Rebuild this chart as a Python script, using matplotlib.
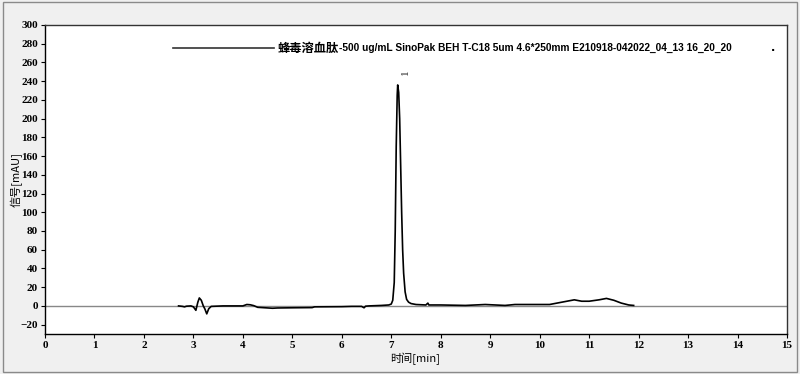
import matplotlib
matplotlib.use("Agg")
import matplotlib.pyplot as plt
from matplotlib.patches import Rectangle
import numpy as np

# Chromatogram trace (time in min, signal in mAU)
time_min = [2.70, 2.78, 2.82, 2.86, 2.95, 3.00, 3.05, 3.09, 3.12, 3.16, 3.20, 3.23, 3.27, 3.31, 3.36,
            3.60, 4.00, 4.08, 4.15, 4.22, 4.30, 4.45, 4.60, 4.70, 5.00, 5.40, 5.45, 6.00, 6.20, 6.40,
            6.45, 6.48, 6.55, 6.80, 6.95, 7.00, 7.03, 7.06, 7.08, 7.10, 7.12, 7.13, 7.15, 7.17, 7.19,
            7.21, 7.23, 7.25, 7.28, 7.31, 7.35, 7.40, 7.50, 7.70, 7.74, 7.76, 8.00, 8.50, 8.90, 9.30,
            9.50, 10.20, 10.40, 10.55, 10.70, 10.85, 11.00, 11.20, 11.35, 11.50, 11.65, 11.80, 11.90]
signal = [0.0, -0.5, -1.0, -0.3, 0.0, -1.0, -4.7, 4.0, 8.5, 6.0, 0.0, -3.0, -8.5, -3.0, -0.5,
          0.0, 0.0, 1.5, 1.2, 0.3, -1.5, -2.0, -2.5, -2.2, -2.0, -1.8, -1.0, -0.8, -0.5, -0.5,
          -2.0, -0.3, 0.0, 0.5, 1.0, 2.0, 6.0, 25.0, 80.0, 170.0, 225.0, 236.0, 228.0, 200.0, 150.0,
          100.0, 60.0, 35.0, 15.0, 7.0, 4.0, 2.5, 1.5, 1.0, 3.0, 1.0, 1.0, 0.5, 1.5, 0.5,
          1.5, 1.5, 3.5, 5.0, 6.5, 5.0, 5.0, 6.5, 8.0, 6.0, 3.0, 1.0, 0.5]

peak_time = [7.13]
peak_height = [236.0]
peak_labels = ["1"]

x_ticks = list(range(0, 16))
y_ticks = list(range(-20, 301, 20))

legend_text_cn = "蜂毒溶血肽"
legend_text = "-500 ug/mL SinoPak BEH T-C18 5um 4.6*250mm E210918-042022_04_13 16_20_20"

fig = plt.figure(figsize=(8.0, 3.74), dpi=100, facecolor="#f0f0f0")
fig.patches.append(Rectangle((0.004, 0.005), 0.992, 0.99, transform=fig.transFigure,
                             fill=False, edgecolor="#8a8a8a", linewidth=1.0))

ax = fig.add_axes([45 / 800, 1 - 334 / 374, (787 - 45) / 800, (334 - 25) / 374])
ax.set_facecolor("white")
ax.set_xlim(0, 15)
ax.set_ylim(-30, 300)

ax.plot([0, 15], [0, 0], color="#888888", linewidth=1.0, zorder=2)
ax.plot(time_min, signal, color="black", linewidth=1.2, zorder=3)

for t, h, lab in zip(peak_time, peak_height, peak_labels):
    ax.text(t + 0.15, h + 11, lab, rotation=90, ha="center", va="bottom",
            fontsize=8, family=["Liberation Serif"], color="#222222")

ax.set_xticks(x_ticks)
ax.set_yticks(y_ticks)
ax.tick_params(axis="both", direction="out", length=3, width=0.8, pad=2,
               labelsize=8, colors="black")
for lab in ax.get_xticklabels() + ax.get_yticklabels():
    lab.set_family(["Liberation Serif"])
    lab.set_fontweight("bold")

for s in ["left", "bottom"]:
    ax.spines[s].set_color("black")
    ax.spines[s].set_linewidth(1.0)
for s in ["top", "right"]:
    ax.spines[s].set_color("#333333")
    ax.spines[s].set_linewidth(1.0)

ax.set_xlabel("时间[min]", fontsize=8, family=["Noto Sans CJK SC", "DejaVu Sans"], labelpad=2)
ax.xaxis.set_label_coords((415 - 45) / (787 - 45), -0.06)
ax.set_ylabel("信号[mAU]", fontsize=8, family=["Noto Sans CJK SC", "DejaVu Sans"], labelpad=2)
ax.yaxis.set_label_coords((23 - 45) / (787 - 45), 0.5)

# legend line and text
ax.plot([2.58, 4.62], [275, 275], color="#333333", linewidth=1.2, transform=ax.transData,
        clip_on=False)
t1 = ax.text(4.7, 275, legend_text_cn, fontsize=8.8, fontweight="bold",
             family=["Noto Sans CJK SC"], va="center", ha="left")
fig.canvas.draw()
bb = t1.get_window_extent()
x_end = ax.transData.inverted().transform((bb.x1, bb.y0))[0]
ax.text(x_end, 275, legend_text, fontsize=7.3, fontweight="bold",
        family=["Liberation Sans"], va="center", ha="left")
ax.text(14.72, 275, ".", fontsize=8, fontweight="bold", va="center", ha="center")

fig.savefig("out.png", dpi=100, facecolor=fig.get_facecolor())
